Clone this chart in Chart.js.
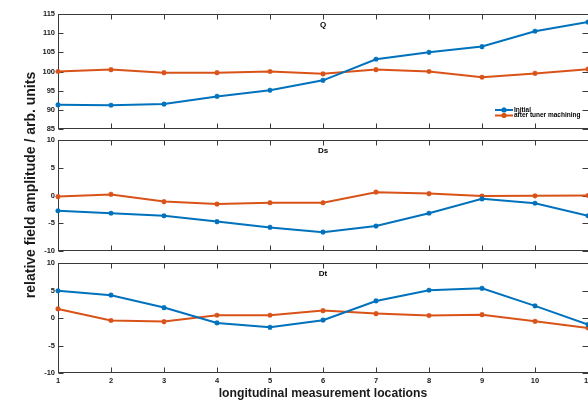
<!DOCTYPE html>
<html><head><meta charset="utf-8">
<script src="https://cdn.jsdelivr.net/npm/chart.js@4.4.1/dist/chart.umd.min.js"></script>
<style>
html,body{margin:0;padding:0;background:#fff;}
#wrap{position:relative;width:588px;height:400px;overflow:hidden;background:#fff;}
canvas{position:absolute;left:0;top:0;}
</style></head><body>
<div id="wrap">
<canvas id="c1" width="588" height="400"></canvas>
<canvas id="c2" width="588" height="400"></canvas>
<canvas id="c3" width="588" height="400"></canvas>
</div>
<script>
// ---- data ----
const locations = [1, 2, 3, 4, 5, 6, 7, 8, 9, 10, 11];
const seriesNames = ['Initial', 'after tuner machining'];
const qInitial = [91.3, 91.2, 91.5, 93.5, 95.1, 97.7, 103.2, 105.0, 106.5, 110.5, 112.9];
const qAfter   = [100.0, 100.5, 99.7, 99.7, 100.0, 99.4, 100.5, 100.0, 98.5, 99.5, 100.6];
const dsInitial = [-2.75, -3.2, -3.65, -4.7, -5.75, -6.6, -5.5, -3.2, -0.6, -1.4, -3.65];
const dsAfter   = [-0.2, 0.2, -1.1, -1.55, -1.3, -1.3, 0.6, 0.35, -0.1, -0.05, 0.0];
const dtInitial = [4.95, 4.15, 1.9, -0.9, -1.7, -0.4, 3.1, 5.05, 5.4, 2.2, -1.2];
const dtAfter   = [1.65, -0.45, -0.65, 0.5, 0.5, 1.35, 0.8, 0.45, 0.6, -0.6, -1.8];
const qTicks = [85, 90, 95, 100, 105, 110, 115];
const dTicks = [-10, -5, 0, 5, 10];
const panelTitles = ['Q', 'Ds', 'Dt'];
const xAxisLabel = 'longitudinal measurement locations';
const yAxisLabel = 'relative field amplitude / arb. units';

// ---- styling ----
const BLUE = '#0072BD', ORANGE = '#D95319';
const FONT = '"Liberation Sans", Arial, sans-serif';
const tickFont = {family: FONT, size: 7.5, weight: 'bold'};

function pts(vals){ return locations.map((x, i) => ({x: x, y: vals[i]})); }
function ds(label, vals, color){
  return {label, data: pts(vals), borderColor: color, backgroundColor: color,
    borderWidth: 2, pointStyle: 'star', pointRadius: 2.6, pointBorderWidth: 1.4,
    pointBorderColor: color, tension: 0, clip: 4};
}

const framePlugin = {
  id: 'frame',
  beforeDatasetsDraw(chart, args, opts){
    const {ctx, chartArea: a, scales: {x, y}} = chart;
    ctx.save();
    ctx.strokeStyle = '#3a3a3a'; ctx.lineWidth = 1;
    const L = Math.round(a.left) + 0.5, R = Math.round(a.right) + 0.5;
    const T = Math.round(a.top) + 0.5, B = Math.round(a.bottom) - 0.5;
    ctx.strokeRect(L, T, R - L, B - T);
    ctx.beginPath();
    x.ticks.forEach(t => {
      const px = Math.round(x.getPixelForValue(t.value)) + 0.5;
      ctx.moveTo(px, B); ctx.lineTo(px, B - 5);
      ctx.moveTo(px, T); ctx.lineTo(px, T + 5);
    });
    y.ticks.forEach(t => {
      const py = Math.round(y.getPixelForValue(t.value)) + 0.5;
      ctx.moveTo(L, py); ctx.lineTo(L + 5, py);
      ctx.moveTo(R, py); ctx.lineTo(R - 6, py);
    });
    ctx.stroke();
    ctx.fillStyle = '#000';
    ctx.font = 'bold 8px ' + FONT;
    ctx.textAlign = 'center'; ctx.textBaseline = 'middle';
    ctx.fillText(opts.title, (a.left + a.right) / 2, a.top + 10.5);
    ctx.restore();
  }
};

const legendPlugin = {
  id: 'miniLegend',
  afterDatasetsDraw(chart, args, opts){
    if (!opts.show) return;
    const {ctx} = chart;
    ctx.save();
    const x0 = 495, x1 = 513, ys = [110, 115.5];
    chart.data.datasets.forEach((d, i) => {
      const yy = ys[i];
      ctx.strokeStyle = d.borderColor; ctx.lineWidth = 2;
      ctx.beginPath(); ctx.moveTo(x0, yy); ctx.lineTo(x1, yy); ctx.stroke();
      Chart.helpers.drawPoint(ctx, {pointStyle: 'star', radius: 2.6, borderWidth: 1.4}, (x0 + x1) / 2, yy);
      ctx.fillStyle = '#000';
      ctx.font = 'bold 6.5px ' + FONT;
      ctx.textAlign = 'left'; ctx.textBaseline = 'middle';
      ctx.fillText(d.label, x1 + 1, yy);
    });
    ctx.restore();
  }
};

const yLabelPlugin = {
  id: 'yLabel',
  afterDraw(chart, args, opts){
    if (!opts.text) return;
    const {ctx} = chart;
    ctx.save();
    ctx.translate(31, 185);
    ctx.rotate(-Math.PI / 2);
    ctx.fillStyle = '#1a1a1a';
    ctx.font = 'bold 14px ' + FONT;
    ctx.textAlign = 'center'; ctx.textBaseline = 'middle';
    ctx.fillText(opts.text, 0, 0);
    ctx.restore();
  }
};

function makeChart(id, a, b, yTicks, title, pad, isBottom, extra){
  const yMin = yTicks[0], yMax = yTicks[yTicks.length - 1];
  const xScale = {
    type: 'linear', min: locations[0], max: locations[locations.length - 1],
    display: isBottom,
    grid: {display: false, drawTicks: false, tickLength: 0}, border: {display: false},
    ticks: {stepSize: 1, font: tickFont, color: '#1a1a1a', padding: 3, maxRotation: 0, autoSkip: false},
    afterBuildTicks: s => { s.ticks = locations.map(v => ({value: v})); },
    afterFit: s => { s.height = isBottom ? 27 : 0; s.paddingLeft = 0; s.paddingRight = 0; },
    title: {display: isBottom, text: xAxisLabel, color: '#1a1a1a',
      font: {family: FONT, size: 12.2, weight: 'bold', lineHeight: 1}, padding: 0}
  };
  return new Chart(document.getElementById(id), {
    type: 'line',
    data: {datasets: [ds(seriesNames[0], a, BLUE), ds(seriesNames[1], b, ORANGE)]},
    plugins: [framePlugin, legendPlugin, yLabelPlugin],
    options: {
      responsive: false, animation: false, events: [],
      layout: {padding: pad, autoPadding: false},
      scales: {
        x: xScale,
        y: {
          type: 'linear', min: yMin, max: yMax,
          grid: {display: false, drawTicks: false, tickLength: 0}, border: {display: false},
          ticks: {font: tickFont, color: '#1a1a1a', padding: 3},
          afterBuildTicks: s => { s.ticks = yTicks.map(v => ({value: v})); },
          afterFit: s => { s.width = 58; s.paddingTop = 0; s.paddingBottom = 0; }
        }
      },
      plugins: {
        legend: {display: false}, tooltip: {enabled: false},
        frame: {title: title},
        miniLegend: {show: !!extra.legend},
        yLabel: {text: extra.ylabel || ''}
      }
    }
  });
}

makeChart('c1', qInitial, qAfter, qTicks, panelTitles[0], {top: 14, bottom: 271, left: 0, right: 0}, false, {legend: true});
makeChart('c2', dsInitial, dsAfter, dTicks, panelTitles[1], {top: 140, bottom: 149, left: 0, right: 0}, false, {ylabel: yAxisLabel});
makeChart('c3', dtInitial, dtAfter, dTicks, panelTitles[2], {top: 263, bottom: 0, left: 0, right: 0}, true, {});
</script>
</body></html>
